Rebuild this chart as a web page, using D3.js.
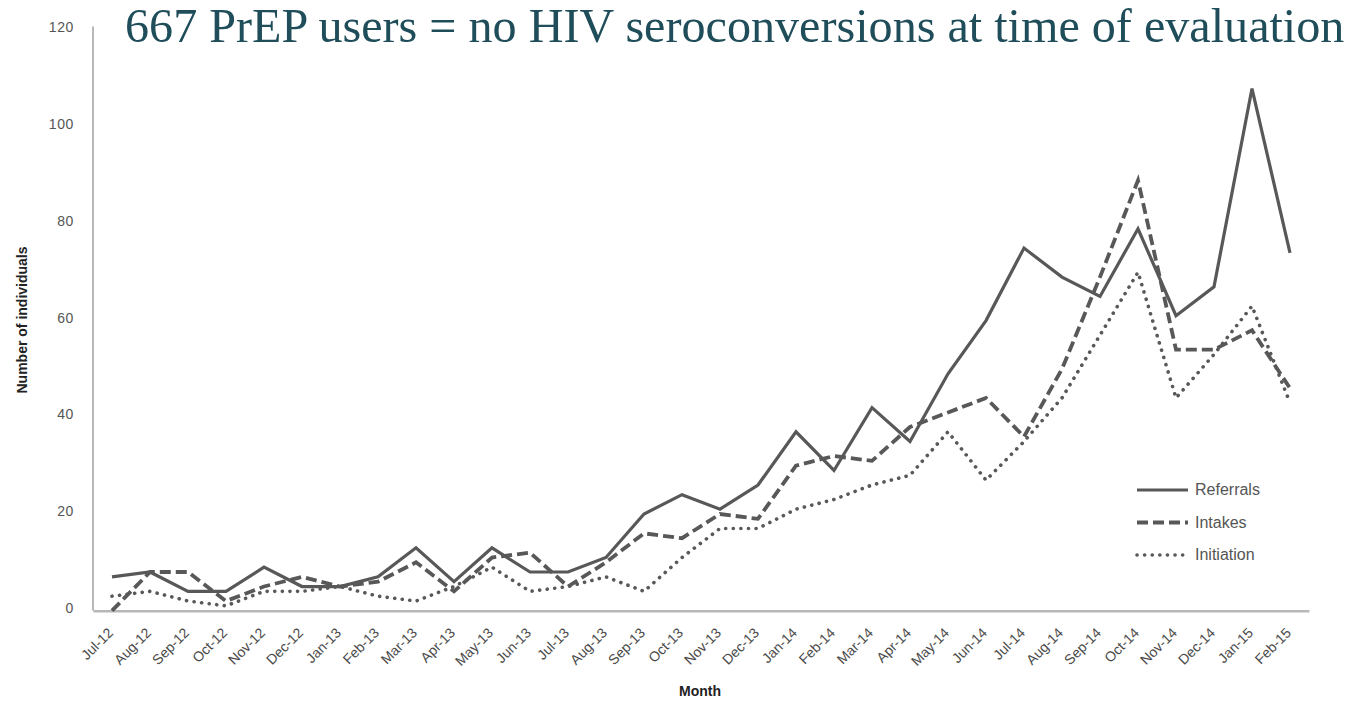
<!DOCTYPE html>
<html>
<head>
<meta charset="utf-8">
<script src="https://cdn.jsdelivr.net/npm/d3@7"></script>
<style>
  html, body { margin: 0; padding: 0; background: #ffffff; }
  svg { display: block; }
</style>
</head>
<body>
<svg id="chart" width="1353" height="702"></svg>
<script>
// Monthly counts of PrEP programme referrals, intakes and initiations
const months = ["Jul-12","Aug-12","Sep-12","Oct-12","Nov-12","Dec-12","Jan-13","Feb-13","Mar-13","Apr-13","May-13","Jun-13","Jul-13","Aug-13","Sep-13","Oct-13","Nov-13","Dec-13","Jan-14","Feb-14","Mar-14","Apr-14","May-14","Jun-14","Jul-14","Aug-14","Sep-14","Oct-14","Nov-14","Dec-14","Jan-15","Feb-15"];
const referrals  = [7,8,4,4,9,5,5,7,13,6,13,8,8,11,20,24,21,26,37,29,42,35,49,60,75,69,65,79,61,67,108,74];
const intakes    = [0,8,8,2,5,7,5,6,10,4,11,12,5,10,16,15,20,19,30,32,31,38,41,44,36,50,69,89,54,54,58,46];
const initiation = [3,4,2,1,4,4,5,3,2,5,9,4,5,7,4,11,17,17,21,23,26,28,37,27,35,44,57,70,44,53,63,43];
const yTicks = [0,20,40,60,80,100,120];
const seriesNames = ["Referrals","Intakes","Initiation"];

const svg = d3.select("#chart");
const plot = { left: 93, right: 1309, top: 30.5, bottom: 610.7 };
const lineColor = "#585858";
const axisColor = "#b8b8b8";
const textColor = "#555555";
const tickFont = "'Liberation Sans Narrow', 'Liberation Sans', Arial, sans-serif";

const x = d3.scaleBand().domain(months).range([plot.left, plot.right]);
const y = d3.scaleLinear().domain([0, 120]).range([plot.bottom, plot.top]);
const cx = m => x(m) + x.bandwidth() / 2;

// Title
const title = svg.append("text")
  .attr("x", 125).attr("y", 42)
  .attr("font-family", "'Liberation Serif', 'DejaVu Serif', serif")
  .attr("font-size", 41)
  .attr("fill", "#1f4d5a")
  .text("667 PrEP users = no HIV seroconversions at time of evaluation");
const tw = title.node().getComputedTextLength();
title.attr("font-size", 41 * 1220 / tw);

// Y axis
const yAxis = svg.append("g")
  .attr("transform", `translate(${plot.left},0)`)
  .call(d3.axisLeft(y).tickValues(yTicks).tickSize(0).tickPadding(19));
yAxis.select(".domain")
  .attr("d", `M0,${plot.bottom}V${plot.top - 4}`)
  .attr("stroke", axisColor).attr("stroke-width", 2);
yAxis.selectAll("text")
  .attr("font-family", "'Liberation Sans', Arial, sans-serif")
  .attr("font-size", 14).attr("letter-spacing", 0.6)
  .attr("fill", textColor)
  .attr("dy", "0.1em");

// X axis
const xAxis = svg.append("g")
  .attr("transform", `translate(0,${plot.bottom})`)
  .call(d3.axisBottom(x).tickSize(0).tickPadding(0));
xAxis.select(".domain").attr("stroke", axisColor).attr("stroke-width", 2.5);
xAxis.selectAll("text")
  .attr("font-family", tickFont).attr("font-size", 14).attr("fill", "#4a4a4a")
  .attr("text-anchor", "end")
  .attr("dy", null).attr("y", null)
  .attr("transform", "translate(2,23) rotate(-45)");

// Axis titles
svg.append("text")
  .attr("x", 700).attr("y", 696)
  .attr("text-anchor", "middle")
  .attr("font-family", "'Liberation Sans', Arial, sans-serif")
  .attr("font-weight", "bold").attr("font-size", 14).attr("fill", "#222")
  .text("Month");
svg.append("text")
  .attr("transform", "translate(27,320) rotate(-90)")
  .attr("text-anchor", "middle")
  .attr("font-family", "'Liberation Sans', Arial, sans-serif")
  .attr("font-weight", "bold").attr("font-size", 14).attr("fill", "#222")
  .text("Number of individuals");

// Series lines
const styles = {
  Referrals:  { data: referrals,  dash: null,      width: 3.2, cap: "butt" },
  Intakes:    { data: intakes,    dash: "11,5",    width: 3.8, cap: "butt" },
  Initiation: { data: initiation, dash: "0.1,7.5", width: 3.6, cap: "round" }
};
const line = d3.line().x((d, i) => cx(months[i])).y(d => y(d));

seriesNames.slice().reverse().forEach(name => {
  const s = styles[name];
  svg.append("path")
    .datum(s.data)
    .attr("d", line)
    .attr("fill", "none")
    .attr("stroke", lineColor)
    .attr("stroke-width", s.width)
    .attr("stroke-linejoin", "miter")
    .attr("stroke-linecap", s.cap)
    .attr("stroke-dasharray", s.dash);
});

// Legend
const legend = svg.append("g").attr("transform", "translate(1137,490)");
seriesNames.forEach((name, i) => {
  const s = styles[name];
  const g = legend.append("g").attr("transform", `translate(0,${i * 32.5})`);
  g.append("line")
    .attr("x1", 0).attr("x2", 51).attr("y1", 0).attr("y2", 0)
    .attr("stroke", lineColor)
    .attr("stroke-width", s.width)
    .attr("stroke-linecap", s.cap)
    .attr("stroke-dasharray", s.dash);
  g.append("text")
    .attr("x", 58).attr("y", 5)
    .attr("font-family", tickFont).attr("font-size", 16).attr("fill", textColor)
    .text(name);
});
</script>
</body>
</html>
